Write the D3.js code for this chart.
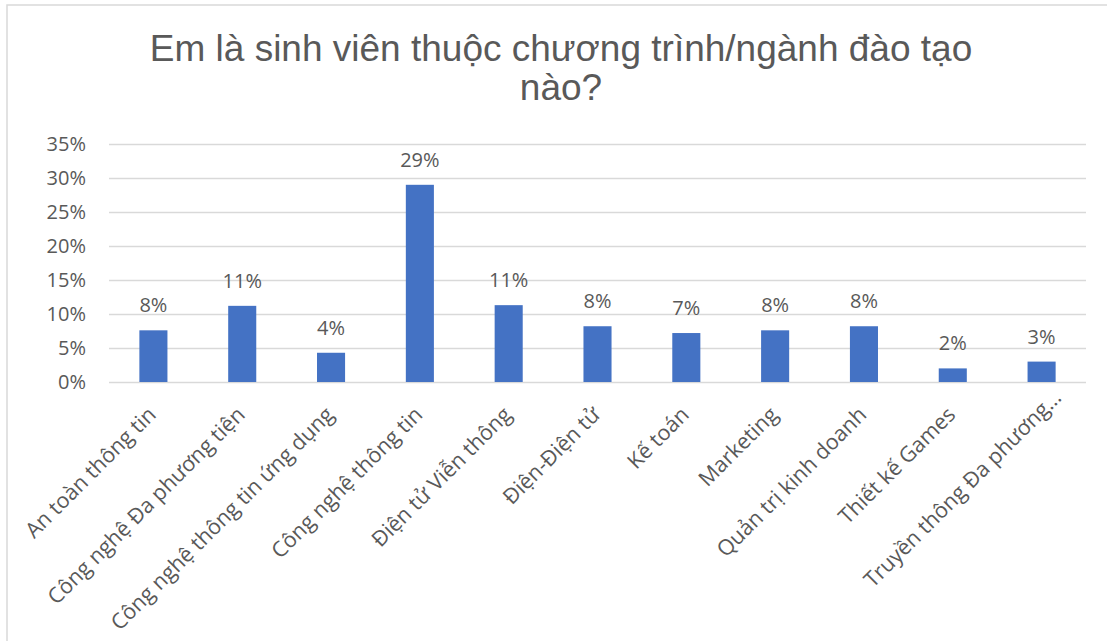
<!DOCTYPE html>
<html>
<head>
<meta charset="utf-8">
<script src="https://cdn.jsdelivr.net/npm/d3@7"></script>
<style>
  body { margin: 0; background: #fff; }
  svg { display: block; }
</style>
</head>
<body>
<div id="chart"></div>
<script>
// Data (share of students per programme)
var categories = [
  "An toàn thông tin",
  "Công nghệ Đa phương tiện",
  "Công nghệ thông tin ứng dụng",
  "Công nghệ thông tin",
  "Điện tử Viễn thông",
  "Điện-Điện tử",
  "Kế toán",
  "Marketing",
  "Quản trị kinh doanh",
  "Thiết kế Games",
  "Truyền thông Đa phương…"
];
var shares = [0.076, 0.112, 0.043, 0.290, 0.113, 0.082, 0.072, 0.076, 0.082, 0.020, 0.030];
var yTicks = [0, 0.05, 0.10, 0.15, 0.20, 0.25, 0.30, 0.35];
var titleLines = ["Em là sinh viên thuộc chương trình/ngành đào tạo", "nào?"];

var width = 1107, height = 641;
var margin = {top: 144, right: 21, bottom: 259, left: 109};
var plotW = width - margin.left - margin.right,
  plotH = height - margin.top - margin.bottom;

var textColor = "#595959",
  gridColor = "#d9d9d9",
  barColor = "#4472c4",
  labelFont = "'Open Sans', 'Segoe UI', sans-serif";

var svg = d3.select("#chart")
  .append("svg")
  .attr("width", width)
  .attr("height", height);

// chart area frame (only left/top edges visible in the crop)
svg.append("rect")
  .attr("x", 7)
  .attr("y", 5)
  .attr("width", 1300)
  .attr("height", 900)
  .attr("fill", "none")
  .attr("stroke", gridColor)
  .attr("stroke-width", 1.5);

// Title
svg.append("text")
  .attr("x", 561)
  .attr("y", 61)
  .attr("text-anchor", "middle")
  .style("font-family", "'Liberation Sans', Arial, sans-serif")
  .style("font-size", "37px")
  .attr("fill", textColor)
  .selectAll("tspan")
  .data(titleLines)
  .enter()
  .append("tspan")
  .attr("x", 561)
  .attr("dy", function(d, i) { return i === 0 ? 0 : 39; })
  .text(function(d) { return d; });

var g = svg.append("g")
  .attr("transform", "translate(" + margin.left + "," + margin.top + ")");

var xScale = d3.scaleBand()
  .domain(categories)
  .range([0, plotW])
  .paddingInner(0.684)
  .paddingOuter(0.342);

var yScale = d3.scaleLinear()
  .domain([0, 0.35])
  .range([plotH, 0]);

// Gridlines + y labels
var yAxis = d3.axisLeft(yScale)
  .tickValues(yTicks)
  .tickSize(-plotW)
  .tickPadding(23)
  .tickFormat(d3.format(".0%"));

var yg = g.append("g").call(yAxis);
yg.select(".domain").remove();
yg.selectAll(".tick line")
  .attr("stroke", gridColor)
  .attr("stroke-width", 1.5);
yg.selectAll(".tick text")
  .attr("fill", textColor)
  .style("font-family", labelFont)
  .style("font-size", "20px");

// Bars
g.selectAll(".bar")
  .data(shares)
  .enter()
  .append("rect")
  .attr("class", "bar")
  .attr("x", function(d, i) { return xScale(categories[i]); })
  .attr("y", function(d) { return yScale(d); })
  .attr("width", xScale.bandwidth())
  .attr("height", function(d) { return plotH - yScale(d); })
  .attr("fill", barColor);

// Value labels
g.selectAll(".val")
  .data(shares)
  .enter()
  .append("text")
  .attr("class", "val")
  .attr("x", function(d, i) { return xScale(categories[i]) + xScale.bandwidth() / 2; })
  .attr("y", function(d) { return yScale(d) - 18; })
  .attr("text-anchor", "middle")
  .attr("fill", textColor)
  .style("font-family", labelFont)
  .style("font-size", "20px")
  .text(function(d) { return d3.format(".0%")(d); });

// Category labels rotated -45deg
var xAxis = d3.axisBottom(xScale).tickSize(0).tickPadding(0);
var xg = g.append("g")
  .attr("transform", "translate(0," + plotH + ")")
  .call(xAxis);
xg.select(".domain").remove();
xg.selectAll(".tick text")
  .attr("fill", textColor)
  .style("font-family", labelFont)
  .style("font-size", "21.5px")
  .attr("text-anchor", "end")
  .attr("dy", 0)
  .attr("dx", function(d) { return /…$/.test(d) ? 24 : 0; })
  .attr("transform", "translate(4,34) rotate(-45)");
</script>
</body>
</html>
